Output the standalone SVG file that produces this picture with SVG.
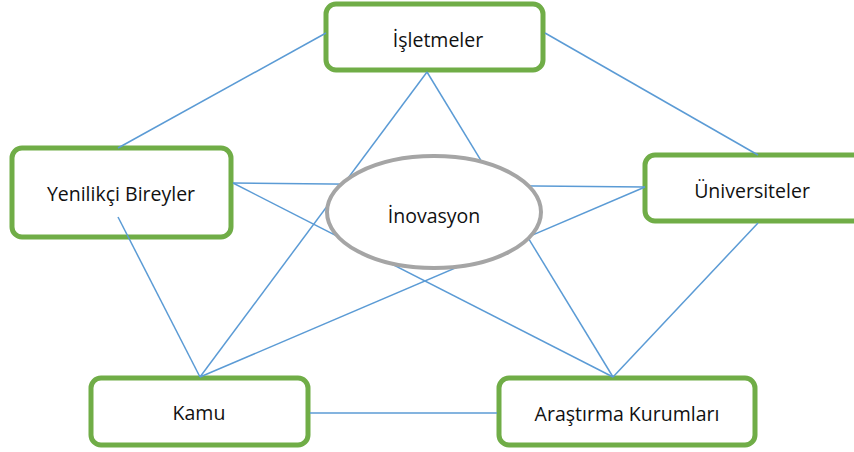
<svg xmlns="http://www.w3.org/2000/svg" width="854" height="452" viewBox="0 0 854 452">
<style>
.box{fill:#ffffff;stroke:#70ad47;stroke-width:5}
.lbl{font-family:"Open Sans","Liberation Sans",sans-serif;font-size:19.5px;fill:#111;text-anchor:middle}
#connectors line{stroke:#5b9bd5;stroke-width:1.5}
</style>
<rect width="854" height="452" fill="#ffffff"/>
<g id="n-isletmeler"><rect class="box" x="326" y="4" width="217" height="66" rx="10"/><text class="lbl" x="438" y="47">İşletmeler</text></g>
<g id="n-yenilikci"><rect class="box" x="12" y="148" width="219" height="89" rx="10"/><text class="lbl" x="121" y="201">Yenilikçi Bireyler</text></g>
<g id="n-universiteler"><rect class="box" x="645" y="155" width="220" height="66" rx="10"/><text class="lbl" x="752" y="198">Üniversiteler</text></g>
<g id="n-kamu"><rect class="box" x="91" y="378" width="217" height="67" rx="10"/><text class="lbl" x="199" y="420">Kamu</text></g>
<g id="n-arastirma"><rect class="box" x="499" y="378" width="256" height="67" rx="10"/><text class="lbl" x="627" y="421">Araştırma Kurumları</text></g>
<g id="connectors">
<line x1="326" y1="33" x2="118" y2="148"/>
<line x1="545" y1="33" x2="758" y2="155"/>
<line x1="758" y1="223" x2="613" y2="377"/>
<line x1="497" y1="413" x2="310" y2="413"/>
<line x1="200" y1="377" x2="118" y2="217"/>
<line x1="427" y1="72" x2="200" y2="377"/>
<line x1="427" y1="72" x2="613" y2="377"/>
<line x1="233" y1="183" x2="645" y2="187"/>
<line x1="233" y1="183" x2="613" y2="377"/>
<line x1="645" y1="187" x2="200" y2="377"/>
</g>
<g id="n-inovasyon"><ellipse cx="434" cy="212" rx="107" ry="56" fill="#ffffff" stroke="#a5a5a5" stroke-width="4"/><text class="lbl" x="434" y="223">İnovasyon</text></g>
</svg>
